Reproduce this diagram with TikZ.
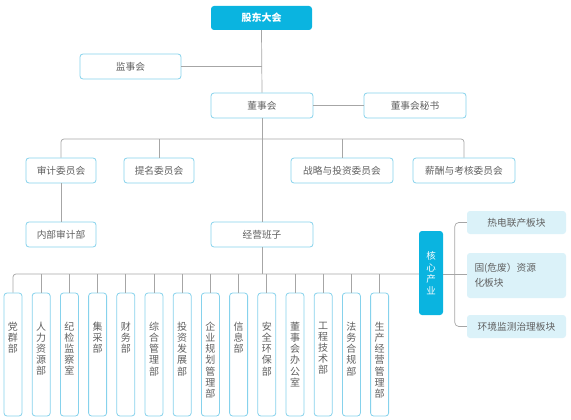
\documentclass[tikz,border=0pt]{standalone}
\usepackage{fontspec}
\setmainfont{Noto Sans CJK SC}
\usepackage{tikz}
\usetikzlibrary{positioning}

\definecolor{corecyan}{HTML}{0AB4E0}
\definecolor{edgecyan}{HTML}{86D2EC}
\definecolor{palecyan}{HTML}{DBF2F9}
\definecolor{linegray}{HTML}{A6A6A6}
\definecolor{textgray}{HTML}{606060}

\begin{document}
\begin{tikzpicture}[
  x=1pt, y=-1pt,
  font=\fontsize{9.7}{11}\selectfont,
  orgbox/.style={draw=edgecyan, line width=0.8pt, fill=white, rounded corners=3pt, text=textgray, minimum height=25pt, inner sep=2pt},
  corebox/.style={fill=corecyan, rounded corners=3pt, text=white, inner sep=2pt},
  sectbox/.style={fill=palecyan, rounded corners=3pt, text=textgray, minimum width=99pt, inner sep=2pt},
  dept/.style={draw=edgecyan, line width=0.8pt, fill=white, rounded corners=3pt, minimum width=18pt, minimum height=123pt, inner sep=0pt},
  vtext/.style={text=textgray, align=center, inner sep=0pt, font=\fontsize{10}{11.2}\selectfont},
  link/.style={draw=linegray, line width=0.7pt}
]
\useasboundingbox (0,0) rectangle (571,420);

\node[corebox, minimum width=101pt, minimum height=24pt, font=\fontsize{10}{11}\selectfont\bfseries] (gd) at (261.5,18) {股东大会};
\node[orgbox, minimum width=101pt] (js) at (130.5,66.5) {监事会};
\node[orgbox, minimum width=102pt] (dsh) at (262,105.5) {董事会};
\node[orgbox, minimum width=102pt] (ms) at (415,105.5) {董事会秘书};

\node[orgbox, minimum width=70pt] (sj) at (61,170.5) {审计委员会};
\node[orgbox, minimum width=70pt] (tm) at (159,170.5) {提名委员会};
\node[orgbox, minimum width=102pt] (zl) at (342,170.5) {战略与投资委员会};
\node[orgbox, minimum width=102pt] (xc) at (464,170.5) {薪酬与考核委员会};

\node[orgbox, minimum width=70pt] (nb) at (61,234.5) {内部审计部};
\node[orgbox, minimum width=102pt] (jy) at (262,234.5) {经营班子};

\node[corebox, minimum width=24pt, minimum height=84pt, align=center, font=\fontsize{9.5}{11.5}\selectfont] (hx) at (431,273) {核\\心\\产\\业};
\node[sectbox, minimum height=23pt] (rd1) at (516.5,222.5) {热电联产板块};
\node[sectbox, minimum height=45pt, align=left, text width=84pt, font=\fontsize{9.7}{15}\selectfont] (rd2) at (516.5,275.5) {固(危废）资源\\化板块};
\node[sectbox, minimum height=23pt] (rd3) at (516.5,326.5) {环境监测治理板块};

\foreach \t [count=\i from 0] in {{党\\群\\部},{人\\力\\资\\源\\部},{纪\\检\\监\\察\\室},{集\\采\\部},{财\\务\\部},{综\\合\\管\\理\\部},{投\\资\\发\\展\\部},{企\\业\\规\\划\\管\\理\\部},{信\\息\\部},{安\\全\\环\\保\\部},{董\\事\\会\\办\\公\\室},{工\\程\\技\\术\\部},{法\\务\\合\\规\\部},{生\\产\\经\\营\\管\\理\\部}}{
  \node[dept] (d\i) at ({13+28.2*\i},354.5) {};
  \node[vtext, below=29pt of d\i.north, anchor=north] (t\i) {\t};
}

\coordinate (bar1) at (262,139);
\coordinate (bar2) at (262,274);

\draw[link] (gd.south) -- (dsh.north);
\draw[link] (js.east) -- (js.east -| gd.south);
\draw[link] (dsh.east) -- (ms.west);
\draw[link] (dsh.south) -- (jy.north);
\draw[link, rounded corners=3pt] (sj.north) |- (bar1) -| (xc.north);
\draw[link] (tm.north) -- (tm.north |- bar1);
\draw[link] (zl.north) -- (zl.north |- bar1);
\draw[link] (sj.south) -- (nb.north);

\draw[link] (jy.south) -- (bar2);
\draw[link, rounded corners=3pt] (d0.north) |- (hx.west |- bar2);
\foreach \i in {1,...,13}{
  \draw[link] (d\i.north) -- (d\i.north |- bar2);
}
\draw[link] (hx.east |- bar2) -- (rd2.west |- bar2);
\draw[link, rounded corners=4pt] (rd1.west) -- ++(-12,0) |- (rd3.west);
\end{tikzpicture}
\end{document}
